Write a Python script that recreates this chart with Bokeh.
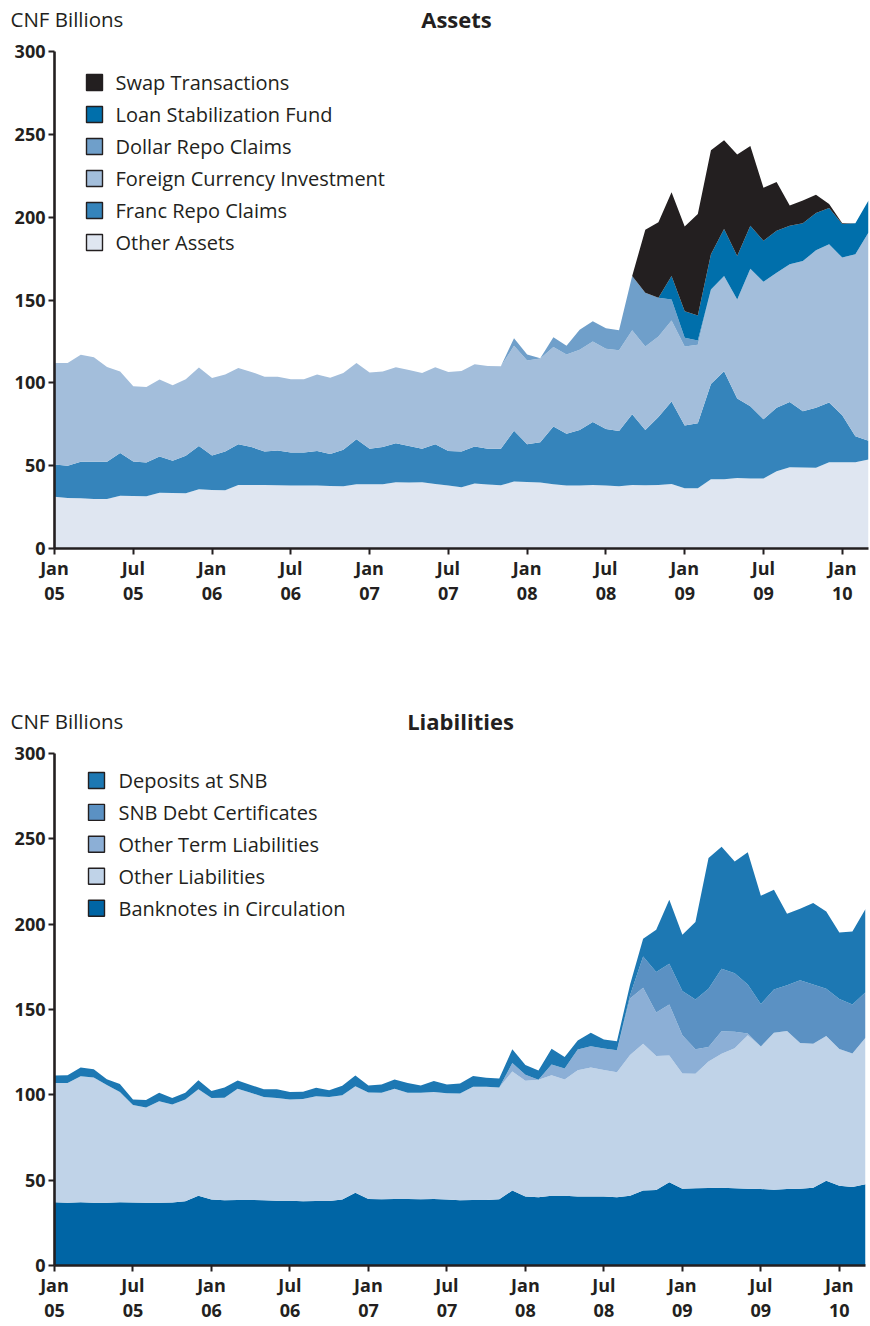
from bokeh.plotting import figure
from bokeh.models import ColumnDataSource, FixedTicker, Range1d
from bokeh.layouts import column
from bokeh.embed import file_html
from bokeh.resources import INLINE
from bokeh.core.properties import value

# ---------------- data ----------------
months = [f"{y}-{m:02d}" for y in range(2005, 2011) for m in range(1, 13)][:63]
tick_positions = [0, 6, 12, 18, 24, 30, 36, 42, 48, 54, 60]
tick_labels = ["Jan\n05", "Jul\n05", "Jan\n06", "Jul\n06", "Jan\n07", "Jul\n07",
               "Jan\n08", "Jul\n08", "Jan\n09", "Jul\n09", "Jan\n10"]
y_ticks = [0, 50, 100, 150, 200, 250, 300]

# Assets (CNF billions)
other_assets = [31.3, 30.5, 30.3, 29.9, 29.9, 31.9, 31.7, 31.5, 33.7, 33.5,
                33.3, 35.7, 35.3, 35.1, 38.4, 38.4, 38.4, 38.2, 38.0, 38.0,
                38.0, 37.8, 37.6, 38.8, 38.8, 38.8, 40.0, 39.8, 40.0, 39.0,
                38.0, 36.9, 39.2, 38.6, 38.2, 40.4, 40.2, 39.8, 38.8, 38.0,
                38.0, 38.4, 38.0, 37.6, 38.4, 38.2, 38.4, 39.0, 36.3, 36.3,
                41.8, 41.8, 42.6, 42.2, 42.2, 46.6, 49.1, 48.9, 48.7, 52.1,
                52.1, 52.1, 53.7]
franc_repo = [19.4, 19.4, 22.0, 22.4, 22.4, 25.7, 20.8, 20.4, 21.9, 19.4,
              22.7, 26.1, 20.9, 23.5, 24.6, 22.8, 20.2, 21.0, 20.0, 20.0,
              20.8, 19.2, 22.0, 27.1, 21.4, 22.4, 23.5, 22.0, 20.2, 24.0,
              20.8, 21.7, 22.4, 21.6, 22.0, 30.7, 22.7, 24.4, 34.9, 31.3,
              33.5, 38.0, 34.1, 33.3, 42.6, 33.3, 41.0, 49.7, 38.0, 39.3,
              57.5, 65.2, 47.9, 43.7, 35.8, 38.3, 39.4, 34.0, 36.2, 36.0,
              28.3, 15.6, 11.3]
foreign_currency = [61.3, 62.1, 64.6, 63.2, 57.3, 49.2, 45.4, 45.6, 46.4, 45.6,
                    46.2, 47.4, 46.7, 46.4, 46.0, 45.4, 45.1, 44.5, 44.2, 44.2,
                    46.2, 46.1, 46.4, 46.1, 46.0, 45.6, 45.9, 46.0, 45.8, 46.4,
                    47.8, 48.6, 49.6, 50.0, 49.8, 51.3, 50.6, 50.5, 47.9, 47.8,
                    48.5, 48.6, 48.4, 48.8, 50.7, 50.4, 48.6, 48.9, 47.6, 47.4,
                    57.1, 57.5, 59.8, 83.0, 83.0, 81.6, 83.1, 90.6, 95.1, 95.6,
                    95.2, 109.9, 125.8]
dollar_repo = [0.0] * 35 + [4.5, 3.6, 0.2, 5.9, 5.3, 12.1, 12.2, 12.5, 12.0, 32.8,
                            32.5, 23.3, 12.7, 5.3, 2.6] + [0.0] * 13
loan_fund = [0.0] * 47 + [14.2, 16.0, 15.0, 21.2, 28.3, 26.3, 25.9, 24.7, 25.3,
                          23.2, 22.8, 22.5, 21.9, 20.2, 18.7, 19.2]
swap = [0.0] * 45 + [38.0, 45.6, 50.6, 51.2, 61.3, 62.8, 53.6, 61.3, 48.2, 32.0,
                     29.4, 12.2, 13.7, 11.0, 2.4, 0.5, 0.0, 0.0]

# Liabilities (CNF billions)
banknotes = [37.1, 36.7, 37.1, 36.7, 36.7, 37.1, 36.9, 36.7, 36.7, 36.9,
             37.6, 40.8, 38.6, 38.2, 38.4, 38.4, 38.2, 38.0, 38.0, 37.6,
             37.8, 37.8, 38.6, 42.7, 39.0, 38.8, 39.0, 39.0, 38.8, 39.0,
             38.6, 38.2, 38.4, 38.4, 38.8, 43.9, 40.4, 40.0, 40.8, 40.8,
             40.4, 40.4, 40.4, 40.0, 40.8, 43.9, 44.3, 48.8, 45.0, 45.2,
             45.4, 45.6, 45.2, 45.0, 44.8, 44.4, 44.8, 45.0, 45.6, 49.7,
             46.8, 46.0, 47.6]
other_liabilities = [69.9, 70.3, 73.8, 73.5, 69.0, 64.5, 57.1, 55.9, 59.6, 57.5,
                     59.7, 62.4, 59.5, 60.1, 65.1, 62.8, 60.6, 60.1, 59.3, 59.9,
                     61.4, 61.0, 61.2, 62.4, 62.4, 62.4, 64.5, 62.2, 62.4, 62.6,
                     62.4, 62.6, 66.3, 66.3, 65.5, 69.8, 67.9, 68.8, 70.7, 68.2,
                     74.0, 75.6, 74.2, 73.3, 82.6, 86.1, 78.4, 74.2, 67.5, 67.1,
                     74.2, 78.4, 82.1, 89.9, 83.5, 92.0, 92.6, 85.4, 84.3, 84.8,
                     80.1, 78.2, 85.9]
other_term = [0.0] * 35 + [4.9, 3.5, 0.0, 6.3, 6.4, 12.1, 12.5, 12.5, 12.8, 33.0,
                           32.8, 25.5, 30.0, 22.4, 14.4, 8.5, 13.2, 9.7, 1.0] + [0.0] * 9
debt_certificates = [0.0] * 44 + [2.0, 18.3, 23.7, 23.8, 25.9, 29.1, 34.1, 36.7, 34.3,
                                  28.8, 24.9, 25.3, 26.8, 36.7, 34.7, 27.7, 29.3, 28.8, 26.6]
deposits = [4.3, 4.5, 5.1, 4.8, 3.5, 4.7, 3.3, 4.3, 4.9, 3.7,
            3.9, 5.4, 4.2, 6.0, 4.9, 4.6, 4.5, 5.1, 4.3, 4.3,
            4.9, 3.9, 5.5, 6.2, 4.1, 4.9, 5.5, 5.8, 4.3, 6.5,
            5.1, 5.9, 6.4, 5.3, 5.3, 8.1, 5.7, 5.4, 9.2, 6.8,
            5.3, 7.9, 5.3, 5.3, 6.1, 10.3, 24.8, 37.5, 33.0, 45.4,
            76.6, 71.5, 65.4, 77.4, 63.4, 58.5, 41.9, 41.9, 47.8, 45.2,
            38.9, 42.7, 48.8]

asset_names = ["Other Assets", "Franc Repo Claims", "Foreign Currency Investment",
               "Dollar Repo Claims", "Loan Stabilization Fund", "Swap Transactions"]
asset_colors = ["#dfe6f1", "#3584bb", "#a3bedb", "#6f9fca", "#006fab", "#231f20"]
liab_names = ["Banknotes in Circulation", "Other Liabilities", "Other Term Liabilities",
              "SNB Debt Certificates", "Deposits at SNB"]
liab_colors = ["#0065a5", "#c0d3e8", "#8cafd6", "#5b91c3", "#1d78b3"]

# ---------------- styling ----------------
FONT = "Open Sans"
TXT = "#231f20"
BL = 54
W = 869
NX = len(months) - 1


def header_figure(height, title, title_x, text_y):
    h = figure(width=W, height=height, output_backend="svg", toolbar_location=None,
               x_range=Range1d(0, W), y_range=Range1d(0, height),
               min_border_left=0, min_border_right=0, min_border_top=0, min_border_bottom=0)
    h.frame_align = False
    h.axis.visible = False
    h.grid.visible = False
    h.outline_line_color = None
    h.text(x=[10], y=[text_y], text=["CNF Billions"], text_font=value(FONT),
           text_font_size="20.5px", text_color=TXT, text_align="left", text_baseline="middle")
    h.text(x=[title_x], y=[text_y], text=[title], text_font=value(FONT),
           text_font_style="bold", text_font_size="22px", text_color=TXT,
           text_align="center", text_baseline="middle")
    return h


def base_figure(height, b_top, b_bottom, b_right):
    p = figure(width=W, height=height, output_backend="svg", toolbar_location=None,
               x_range=Range1d(0, NX), y_range=Range1d(0, 300),
               min_border_left=BL, min_border_right=b_right,
               min_border_top=b_top, min_border_bottom=b_bottom)
    p.frame_align = False
    p.outline_line_color = None
    p.grid.visible = False
    p.background_fill_color = "white"
    p.border_fill_color = "white"
    for ax in (p.xaxis[0], p.yaxis[0]):
        ax.axis_line_color = TXT
        ax.axis_line_width = 2.6
        ax.major_tick_line_color = TXT
        ax.major_tick_line_width = 2
        ax.major_tick_out = 6
        ax.major_tick_in = 0
        ax.minor_tick_line_color = None
        ax.major_label_text_font = FONT
        ax.major_label_text_font_style = "bold"
        ax.major_label_text_font_size = "18px"
        ax.major_label_text_color = TXT
    p.xaxis.ticker = FixedTicker(ticks=tick_positions)
    p.xaxis.major_label_overrides = {t: lab for t, lab in zip(tick_positions, tick_labels)}
    p.xaxis.major_label_standoff = 1
    p.xaxis[0].major_label_text_line_height = 1.05
    p.yaxis.ticker = FixedTicker(ticks=y_ticks)
    p.yaxis.major_label_standoff = 3
    return p


def add_legend(p, frame_w, frame_h, names, colors, first_row_px, sq_x_px, txt_x_px):
    ppu = frame_h / 300.0
    ppm = frame_w / NX
    ys = [(frame_h - (first_row_px + 32 * k)) / ppu for k in range(len(names))]
    xs = [(sq_x_px - BL) / ppm] * len(names)
    xt = [(txt_x_px - BL) / ppm] * len(names)
    p.scatter(x=xs, y=ys, marker="square", size=16, fill_color=colors,
              line_color=TXT, line_width=1.4)
    p.text(x=xt, y=ys, text=names, text_font=value(FONT), text_font_size="20px",
           text_color=TXT, text_align="left", text_baseline="middle")


# ---------------- Assets ----------------
hdr1 = header_figure(36, "Assets", 456, 18)
H1, BT1, BB1, BR1 = 576, 15, 64, 1
FH1 = H1 - BT1 - BB1
FW1 = W - BL - BR1
p1 = base_figure(H1, BT1, BB1, BR1)
src1 = ColumnDataSource(dict(x=list(range(len(months))),
                             **{asset_names[0]: other_assets, asset_names[1]: franc_repo,
                                asset_names[2]: foreign_currency, asset_names[3]: dollar_repo,
                                asset_names[4]: loan_fund, asset_names[5]: swap}))
p1.varea_stack(stackers=asset_names, x="x", color=asset_colors, source=src1)
leg_order = list(range(len(asset_names)))[::-1]
add_legend(p1, FW1, FH1, [asset_names[i] for i in leg_order], [asset_colors[i] for i in leg_order],
           82 - 51, 94, 115)

# ---------------- Liabilities ----------------
hdr2 = header_figure(128, "Liabilities", 460, 20)
H2, BT2, BB2, BR2 = 584, 13, 58, 4
FH2 = H2 - BT2 - BB2
FW2 = W - BL - BR2
p2 = base_figure(H2, BT2, BB2, BR2)
src2 = ColumnDataSource(dict(x=list(range(len(months))),
                             **{liab_names[0]: banknotes, liab_names[1]: other_liabilities,
                                liab_names[2]: other_term, liab_names[3]: debt_certificates,
                                liab_names[4]: deposits}))
p2.varea_stack(stackers=liab_names, x="x", color=liab_colors, source=src2)
leg_order2 = [4, 3, 2, 1, 0]
add_legend(p2, FW2, FH2, [liab_names[i] for i in leg_order2], [liab_colors[i] for i in leg_order2],
           780 - 753, 96, 118)

layout = column(hdr1, p1, hdr2, p2, spacing=0)
open("out.html", "w").write(file_html(layout, INLINE))
